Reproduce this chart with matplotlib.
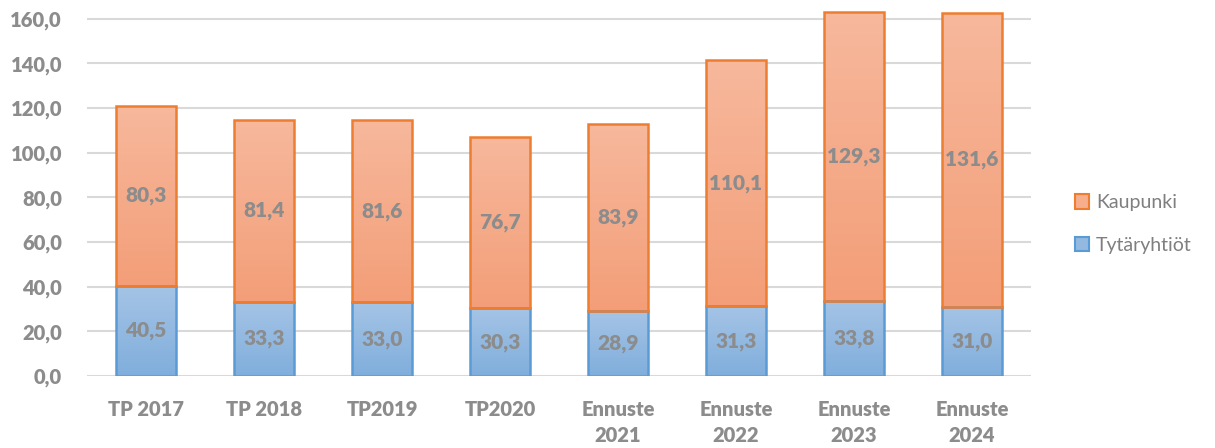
import numpy as np
from matplotlib import pyplot as plt
from matplotlib.patches import Patch

#データ
categories = ["TP 2017", "TP 2018", "TP2019", "TP2020",
              "Ennuste\n2021", "Ennuste\n2022", "Ennuste\n2023", "Ennuste\n2024"]
tytaryhtiot = [40.5, 33.3, 33.0, 30.3, 28.9, 31.3, 33.8, 31.0]
kaupunki = [80.3, 81.4, 81.6, 76.7, 83.9, 110.1, 129.3, 131.6]
yticks = [0, 20, 40, 60, 80, 100, 120, 140, 160]

GRAY = "#8C8C8C"
plt.rcParams['font.family'] = ['Lato', 'DejaVu Sans']

#グラデーション塗り
def grad_bar(ax, bars, top_col, bot_col):
    cmap = plt.matplotlib.colors.LinearSegmentedColormap.from_list("g", [bot_col, top_col])
    grad = np.linspace(0, 1, 256).reshape(-1, 1)
    for b in bars:
        x0, y0 = b.get_x(), b.get_y()
        w, h = b.get_width(), b.get_height()
        im = ax.imshow(grad, cmap=cmap, origin="lower", aspect="auto",
                       extent=(x0, x0 + w, y0, y0 + h), zorder=2)
        im.set_clip_path(b)

fig = plt.figure(figsize=(12.15, 4.48), dpi=100)
ax = fig.add_axes([0.0716, 0.1607, 0.777, 0.815])

x = np.arange(len(categories))
w = 0.505
b1 = ax.bar(x, tytaryhtiot, w, facecolor="none", edgecolor="#5B9BD5", linewidth=1.8, zorder=3)
b2 = ax.bar(x, kaupunki, w, bottom=tytaryhtiot, facecolor="none", edgecolor="#ED7D31",
            linewidth=1.8, zorder=3)
grad_bar(ax, b1, "#A5C4E6", "#80AEDC")
grad_bar(ax, b2, "#F7B89C", "#F39E78")

for i in range(len(categories)):
    ax.text(x[i], tytaryhtiot[i] / 2, ("%.1f" % tytaryhtiot[i]).replace(".", ","),
            ha="center", va="center", color=GRAY, fontsize=15, fontweight="heavy", zorder=4)
    ax.text(x[i], tytaryhtiot[i] + kaupunki[i] / 2, ("%.1f" % kaupunki[i]).replace(".", ","),
            ha="center", va="center", color=GRAY, fontsize=15, fontweight="heavy", zorder=4)

ax.set_xlim(-0.5, len(categories) - 0.5)
ax.set_ylim(0, 163.5)
ax.set_yticks(yticks)
ax.set_yticklabels([("%.1f" % v).replace(".", ",") for v in yticks])
ax.set_xticks(x)
ax.set_xticklabels(categories)
for lab in ax.get_xticklabels() + ax.get_yticklabels():
    lab.set_color(GRAY)
    lab.set_fontweight("heavy")
    lab.set_fontsize(14.5)
    lab.set_linespacing(1.45)
ax.tick_params(length=0)
ax.tick_params(axis="y", pad=18)
ax.tick_params(axis="x", pad=17)
ax.grid(axis="y", color="#D9D9D9", linewidth=1.5, zorder=0)
ax.set_axisbelow(True)
for s in ax.spines.values():
    s.set_visible(False)

handles = [Patch(facecolor="#F6AE8C", edgecolor="#ED7D31", linewidth=1.5),
           Patch(facecolor="#93B9E0", edgecolor="#5B9BD5", linewidth=1.5)]
leg = fig.legend(handles, ["Kaupunki", "Tytäryhtiöt"], loc="center left",
                 bbox_to_anchor=(0.87, 0.5), frameon=False, fontsize=14,
                 handlelength=0.75, handleheight=0.75, handletextpad=0.35, labelspacing=1.3)
for t in leg.get_texts():
    t.set_color("#7F7F7F")

fig.savefig("out.png", dpi=100)
